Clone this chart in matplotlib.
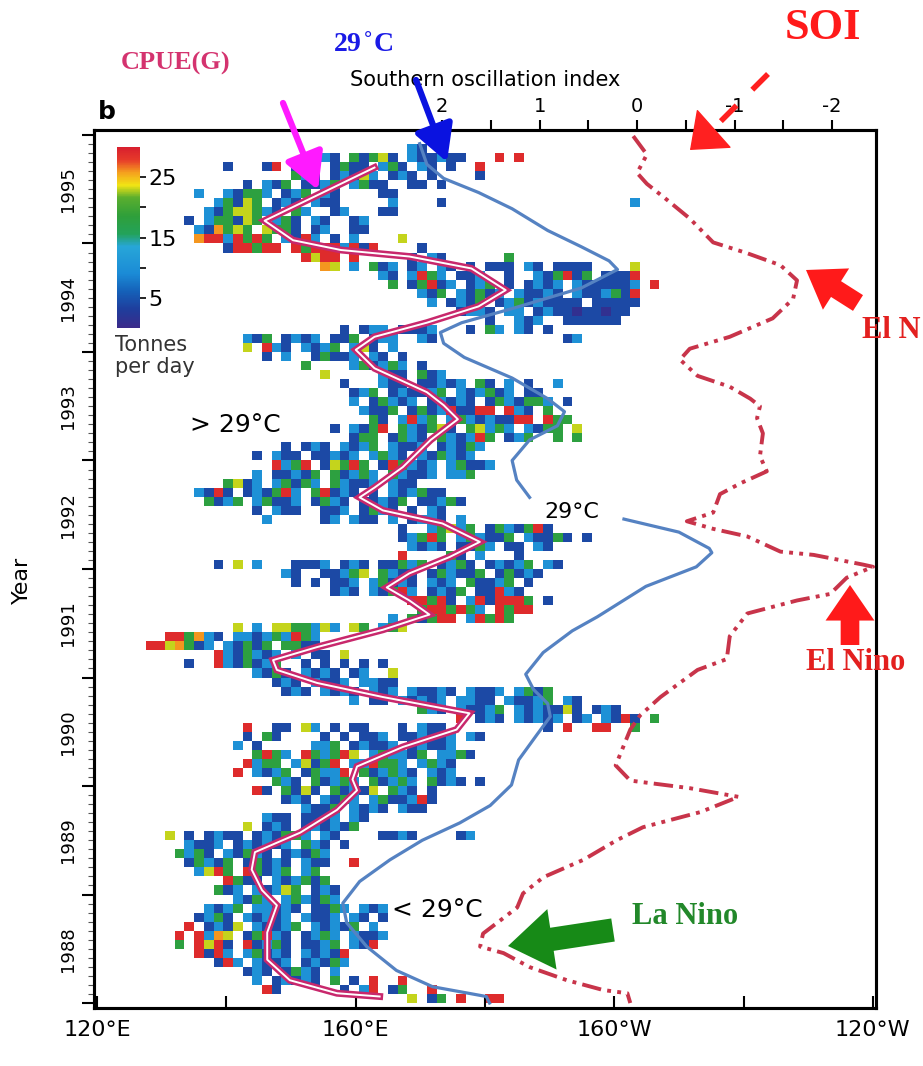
import numpy as np
import matplotlib
matplotlib.use("Agg")
from matplotlib import pyplot as plt
from matplotlib.colors import LinearSegmentedColormap, Normalize
from matplotlib.patches import FancyArrowPatch
from matplotlib.lines import Line2D
from matplotlib.ticker import MultipleLocator
import matplotlib.transforms as mtransforms

W, H = 923, 1066

# --- CPUE cells: one row per month, Dec 1995 (top) down to Jan 1988 ---
# tokens "col:codes", col = 1.5 deg column counted from 126E, '.' = no fishing
cell_lon0 = 126.0
cell_dlon = 1.5
cell_top_year = 1996.0
cell_values = {"p": 1, "b": 4, "c": 10, "g": 18, "y": 23, "o": 26, "r": 29}
cpue_rows = [
    "", "28:cb.b", "17:bbcb.gbgyb.cbbcbb 37:r.r", "9:b 13:br.bcb.bgbb.cgb.cb.b 35:r",
    "16:gcb.bcbyc.bcb.b 35:b", "11:b.cbg.bbcg.cgbb 28:bb 31:b", "6:c..cbggc.bcg.cb 25:bb",
    "8:cgbyg.bcb.cbb 26:c 31:b 51:c", "7:cbgyygcb.gc 20:bc 25:bb", "5:b.cggbyg.cgb.cb 22:bc",
    "6:cbogyg.yggb.bc 22:bb", "6:orrcrgrg.cbrc 20:b 22:c 27:y",
    # 1994
    "9:brrgrr.rgrrrcrbr 29:b", "17:ryrr 22:r 28:b 30:cb 38:g",
    "19:oy 22:c 24:gbc 28:bc.cb.b 36:bbb 40:cb 43:bbbb 51:y",
    "25:cb.crgc.bbc 38:b 41:cbgrbg.bbbr 51:r", "26:g.bgrbc.bcg.b 40:bcbc.cbbbbbc 53:r",
    "29:cbg.cbgbc.cbbcb.cbbcgbb 51:r", "30:c.bcbg.bcgbcbbbb.bbbbb", "33:bccb.cc.bcbbpbbpbb",
    "36:b..cbc..bbbbbb", "21:b.bcc.bbbc 34:b 36:gc 39:cb 42:b",
    "11:cbg.bcbc.bbg.bcc 29:cb 44:bc", "11:y.rcb.cbcg.cyb.c",
    # 1993
    "13:b.c..bgbbc.cb.b", "17:g 22:cgbcgc.b", "19:y 25:cbb.gbc",
    "21:b 25:cbb.bbcbc.gb 38:c 40:b 43:c", "22:bcg.bcbbcg.cbcgbc.bb",
    "22:c.bgcbc.bcbcb.bgcbggc.b", "23:cbbg.bgbcrbbrr.rcb.g", "24:gb.crcg.cgcbcbbrr.rgg",
    "20:b.cbgr.gcbgyb.gycgc.cbgg.y", "22:bgg.bgcb.gcbcrg.bcg 43:g.g",
    "15:b.bcb.cbcg.cbbc.bcbgc", "12:b.cbb.bbcbc.cgcb.cbgcbc",
    # 1992
    "14:rcgr.bygrg.brgcbc.cgbbc", "12:c.bbcbg.gbcgc.gcbbc.ccg", "9:gybc.cgbgc.gcbbc.cbb",
    "6:cbrb.bcbgrc.grbcb.b.cbcgbb", "7:gbcg.cgbbc.bgcb.bbcbg.bbcgb",
    "12:b.cbb 19:bbc.bgcb.b 30:cb", "13:c 19:bc 22:cbb 26:c 28:bccb 33:c",
    "27:b 30:cgycg.bgcbgrb", "27:bcgrg.cgcbbg.cbbgb 46:b", "28:cbcb.bbgc.bb 41:cb",
    "27:r 32:gb 35:c 39:b", "8:b 10:y 12:c 16:bbbc 21:bcb.bbgcg.bcgb.bcbcg.cb",
    # 1991
    "15:cb 19:bbcgy.gcbb.bgcbbg.bgbcb", "16:b 18:b 20:bbc.cgbcb 30:cbc.gbbcg.b",
    "20:bcb.cbgrc 30:bcbg.bbrcb", "28:rrgrb.crbrrrg 42:b", "29:grrgrgc.rgrr",
    "26:c 28:gbgrr.crgrg", "10:y 12:c 14:yyggcyc 22:yg 25:cgy", "3:rrgocb.ccbcgcrgc",
    "1:rryogbc.cbgbg.ggbb", "8:rcbgcbc 16:c 18:bb 21:y",
    "5:b 8:rcbgbcg 17:b 19:b 21:b 23:b 25:b", "12:cbgb 17:cbcb 22:bc 26:y",
    # 1990
    "14:bcb.cbbc.ccbb", "15:bcb.cbcb.cbc.cbbcb.cbbc.cgbg",
    "22:c 24:bb 27:cbcbc 33:ccbb.cbbcg.cb", "29:gcb.cbbcg.cbcbbyb.bcb",
    "33:r 35:bcb.cbcbc.bc 48:cbrb 53:g",
    "11:r 14:bb 17:yc 20:b 22:bb 27:b 29:cbb 42:b 44:r 47:rr 51:g",
    "11:b 13:gb 19:b 21:b 23:bbc.bbcbbc 34:cb", "10:c 12:b 18:ccg.bcbbc.bcbbc",
    "12:grgc.rgcgry.cgccbg.ccgb", "11:rcgg.cybgr.ccrggc.cgcb",
    "10:r 12:cbcg.bgccr.gbcgcb.cbc", "14:gcb.gbcgc.gbcgc.gbcb 35:b",
    # 1989
    "12:rb 15:gbyb.gbcby.gcb 30:b", "15:bcb.cbgc.cgbbcrb", "17:cbbg.cbcb.cbb",
    "13:cbb.bbbc.cb", "11:y 13:bcb.bcbcbg", "3:y 5:b 7:bcbb.bcbggc.cb 25:bbcb 33:bc",
    "5:cbbc.bcbcbc.gcb 21:b", "4:gcgb.cbgcb.bcbgc", "5:bgcbg.bgbcb.cbb 22:r",
    "6:cyrg.rgbcg.cg", "9:rgbb.cbcgbg", "8:gbc.cbcyg.bcb",
    # 1988
    "10:cbgc.cgcbgc", "7:cbcg.ccbcb.bbgc.cbc", "6:bcgb.cbcbc.cbbc.cb 25:b",
    "5:r 7:bcby.cbbcg.cbcbg.c", "4:r 6:rcoy.bgrcb.bcgc.cbbc", "4:g 6:ryrb.rbcgb.bbcg.cbr",
    "6:rbrc.cgbcb.cbcbr", "8:brc.cbbc.bcbgc", "11:bcb.bgcb 20:c",
    "12:c 14:bcbcb 20:g 22:b 24:r 27:r", "13:rb 21:b 23:cr 26:bg 30:r", "28:y 30:bg 33:r 36:rr",
]

# --- CPUE(G) line (lon degE, year) ---
cpue_lon = [162.9, 145.9, 150.3, 157.7, 168.3, 177.9, 183.2, 179.0, 171.0, 162.9, 160.0,
            162.9, 171.0, 173.6, 175.8, 171.6, 167.3, 162.9, 160.6, 164.2, 173.4, 179.2,
            174.5, 168.3, 164.8, 168.3, 171.4, 164.2, 154.0, 147.2, 147.8, 154.0, 164.2,
            177.6, 175.6, 167.3, 160.2, 159.5, 160.2, 157.1, 151.4, 144.4, 143.9, 145.5,
            147.8, 146.3, 146.3, 149.8, 157.1, 163.7]
cpue_year = [1995.70, 1995.21, 1995.03, 1994.94, 1994.88, 1994.77, 1994.57, 1994.42, 1994.27,
             1994.14, 1994.02, 1993.85, 1993.63, 1993.51, 1993.38, 1993.19, 1992.94, 1992.75,
             1992.66, 1992.54, 1992.42, 1992.25, 1992.11, 1991.96, 1991.83, 1991.71, 1991.58,
             1991.44, 1991.28, 1991.16, 1991.07, 1990.95, 1990.82, 1990.67, 1990.52, 1990.36,
             1990.18, 1990.06, 1989.96, 1989.78, 1989.57, 1989.39, 1989.23, 1989.04, 1988.90,
             1988.65, 1988.40, 1988.21, 1988.09, 1988.06]

# --- 29 C isotherm, two pieces (gap for its label) ---
sst_lon_a = [169.9, 171.0, 173.6, 179.0, 184.2, 189.7, 194.9, 199.2, 200.5, 194.9, 184.2,
             176.4, 173.1, 173.6, 176.8, 184.2, 189.7, 192.3, 191.2, 186.9, 184.2, 184.9, 186.9]
sst_year_a = [1995.92, 1995.73, 1995.60, 1995.47, 1995.32, 1995.12, 1994.97, 1994.84, 1994.76,
              1994.59, 1994.40, 1994.27, 1994.18, 1994.08, 1993.95, 1993.76, 1993.57, 1993.45,
              1993.32, 1993.19, 1993.00, 1992.82, 1992.66]
sst_lon_b = [201.5, 210.0, 214.7, 215.1, 212.7, 204.9, 197.4, 193.5, 189.0, 186.3, 187.5,
             189.7, 190.1, 188.0, 185.2, 184.1, 180.8, 176.1, 170.3, 165.3, 160.6, 158.0,
             158.6, 161.7, 166.3, 171.9, 180.2, 180.7]
sst_year_b = [1992.46, 1992.34, 1992.19, 1992.15, 1992.02, 1991.84, 1991.56, 1991.43, 1991.23,
              1991.03, 1990.89, 1990.76, 1990.64, 1990.47, 1990.24, 1990.01, 1989.82, 1989.66,
              1989.50, 1989.32, 1989.12, 1988.92, 1988.74, 1988.52, 1988.30, 1988.15, 1988.06,
              1988.00]

# --- Southern oscillation index ---
soi_val = [0.04, -0.10, 0.0, -0.10, -0.31, -0.54, -0.78, -1.13, -1.47, -1.64, -1.60, -1.39,
           -0.95, -0.54, -0.44, -0.62, -0.95, -1.16, -1.26, -1.23, -1.29, -1.26, -1.33, -1.06,
           -0.85, -0.78, -0.51, -0.78, -1.13, -1.47, -1.81, -2.32, -2.42, -2.15, -1.98, -1.64,
           -1.13, -0.95, -0.92, -0.62, -0.24, -0.03, 0.07, 0.22, 0.07, -0.54, -1.04, -0.65,
           -0.06, 0.21, 0.55, 0.96, 1.17, 1.23, 1.58, 1.61, 1.37, 1.10, 0.72, 0.35, 0.10, 0.07]
soi_year = [1995.99, 1995.82, 1995.65, 1995.55, 1995.40, 1995.23, 1995.01, 1994.91, 1994.80,
            1994.66, 1994.49, 1994.31, 1994.14, 1994.03, 1993.93, 1993.78, 1993.68, 1993.57,
            1993.50, 1993.39, 1993.25, 1993.04, 1992.90, 1992.79, 1992.69, 1992.52, 1992.44,
            1992.37, 1992.30, 1992.16, 1992.13, 1992.04, 1992.02, 1991.92, 1991.77, 1991.71,
            1991.59, 1991.38, 1991.17, 1991.07, 1990.82, 1990.65, 1990.52, 1990.19, 1990.05,
            1989.98, 1989.90, 1989.76, 1989.62, 1989.50, 1989.32, 1989.16, 1989.01, 1988.88,
            1988.64, 1988.52, 1988.46, 1988.33, 1988.21, 1988.12, 1988.09, 1988.00]

years = list(range(1988, 1996))
lon_ticks = [120, 140, 160, 180, 200, 220, 240]
lon_labels = ["120°E", "", "160°E", "", "160°W", "", "120°W"]
soi_ticks = [2, 1, 0, -1, -2]


def px(x, y):
    return x / W, 1 - y / H


def build_grid(rows, ncol=56):
    grid = np.full((len(rows), ncol), np.nan)
    for k, row in enumerate(rows):
        for tok in row.split():
            j0, codes = tok.split(":")
            for i, ch in enumerate(codes):
                if ch in cell_values and int(j0) + i < ncol:
                    grid[k, int(j0) + i] = cell_values[ch]
    return grid


cmap = LinearSegmentedColormap.from_list("tonnes", [
    (0.0, "#3b2a8a"), (0.1, "#1f3d9c"), (0.2, "#1560b8"), (0.3, "#1b8bd6"),
    (0.45, "#27a6d8"), (0.52, "#23a25a"), (0.62, "#2f9f3a"), (0.72, "#5aae2e"),
    (0.79, "#f2e414"), (0.86, "#f5a01e"), (0.93, "#e63a2a"), (1.0, "#d81f2e")])
norm = Normalize(0, 30)

fig = plt.figure(figsize=(W / 100, H / 100), dpi=100)
ax = fig.add_axes([94 / W, 1 - 1008 / H, 782 / W, 878 / H])

grid = build_grid(cpue_rows)
lon_edges = cell_lon0 + cell_dlon * np.arange(grid.shape[1] + 1)
year_edges = cell_top_year - np.arange(grid.shape[0] + 1) / 12
mesh = ax.pcolormesh(lon_edges, year_edges, np.ma.masked_invalid(grid), cmap=cmap, norm=norm,
                     edgecolors="none", antialiased=False, zorder=1)

ax.plot(sst_lon_a, sst_year_a, color="#5582c2", lw=2.3, zorder=3)
ax.plot(sst_lon_b, sst_year_b, color="#5582c2", lw=2.3, zorder=3)
ax.plot(cpue_lon, cpue_year, color="#c8286c", lw=5, zorder=4, solid_joinstyle="miter")
ax.plot(cpue_lon, cpue_year, color="white", lw=1.4, zorder=5)

ax.set_xlim(119.5, 240.5)
ax.set_ylim(1987.954, 1996.046)
ax.set_xticks(lon_ticks)
ax.set_xticklabels(lon_labels, fontsize=16)
ax.tick_params(axis="x", direction="in", length=9, width=1.5, pad=9, top=False)
ax.set_yticks(list(range(1988, 1997)))
ax.set_yticklabels([])
ax.yaxis.set_minor_locator(MultipleLocator(1 / 12))
ax.tick_params(axis="y", which="major", direction="out", length=9, width=1.5)
ax.tick_params(axis="y", which="minor", direction="out", length=4, width=0.8, color="#555555")
for s in ax.spines.values():
    s.set_linewidth(2.2)

trans = mtransforms.blended_transform_factory(ax.transAxes, ax.transData)
for yr in years:
    ax.text(-0.033, yr + 0.5, str(yr), transform=trans, rotation=90, ha="center", va="center",
            fontsize=13)

# SOI on a twin axis (top scale)
ax2 = ax.twiny()
ax2.plot(soi_val, soi_year, color="#c8344a", lw=2.8, dashes=(5, 1.6, 1, 1.6, 1, 1.6), zorder=6)
ax2.set_xlim(5.57, -2.45)
ax2.set_xticks(soi_ticks)
ax2.set_xticklabels(["2", "1", "0", "-1", "-2"], fontsize=14)
ax2.set_xticks([1.5, 0.5, -0.5, -1.5], minor=True)
ax2.tick_params(axis="x", which="both", direction="out", length=7, width=1.5, pad=3)
ax2.set_xlabel("Southern oscillation index", fontsize=15, labelpad=8)
for s in ax2.spines.values():
    s.set_linewidth(2.2)

# colour bar inset
cax = fig.add_axes([117 / W, 1 - 328 / H, 23 / W, 181 / H])
cb = fig.colorbar(mesh, cax=cax)
cb.outline.set_visible(False)
cb.set_ticks([5, 15, 25])
cb.ax.set_yticks([10, 20], minor=True)
cb.ax.tick_params(which="both", length=4, width=1.2, labelsize=16, pad=2)
fig.text(*px(115, 356), "Tonnes\nper day", fontsize=15, color="#333333", ha="left", va="center",
         linespacing=1.15)

# labels
fig.text(*px(22, 580), "Year", rotation=90, fontsize=16, ha="center", va="center")
fig.text(*px(98, 112), "b", fontsize=18, fontweight="bold", ha="left", va="center")
fig.text(*px(235, 425), "> 29°C", fontsize=18, ha="center", va="center")
fig.text(*px(437, 910), "< 29°C", fontsize=18, ha="center", va="center")
fig.text(*px(572, 512), "29°C", fontsize=16, ha="center", va="center")

serif = "Liberation Serif"
fig.text(*px(176, 63), "CPUE(G)", fontsize=19, fontweight="bold", family=serif, color="#d4336f",
         ha="center", va="center")
fig.text(*px(363, 45), "29$^{\\circ}$C", fontsize=20, fontweight="bold", family=serif,
         color="#1a1ae6", ha="center", va="center")
fig.text(*px(823, 28), "SOI", fontsize=32, fontweight="bold", family=serif, color="#ff1a1a",
         ha="center", va="center")
fig.text(*px(920, 330), "El N", fontsize=22, fontweight="bold", family=serif, color="#e3201f",
         ha="right", va="center")
fig.text(*px(806, 662), "El Nino", fontsize=22, fontweight="bold", family=serif, color="#e3201f",
         ha="left", va="center")
fig.text(*px(632, 917), "La Nino", fontsize=22, fontweight="bold", family=serif, color="#22882a",
         ha="left", va="center")


def arrow(p0, p1, color, style, scale, lw=0, ls="-"):
    a = FancyArrowPatch(px(*p0), px(*p1), transform=fig.transFigure, arrowstyle=style,
                        mutation_scale=scale, color=color, lw=lw, linestyle=ls, shrinkA=0, shrinkB=0)
    fig.add_artist(a)


arrow((283, 103), (318, 190), "#ff1aff", "-|>,head_length=1.0,head_width=0.55", 22, lw=4.5)
arrow((416, 80), (447, 162), "#0a12e0", "-|>,head_length=1.0,head_width=0.55", 22, lw=4.5)
fig.add_artist(Line2D([768 / W, 706 / W], [1 - 74 / H, 1 - 136 / H], transform=fig.transFigure,
                      color="#ff2020", lw=4, dashes=(4, 4)))
arrow((708, 134), (690, 150), "#ff2020", "-|>,head_length=1.0,head_width=0.8", 22, lw=1)
block = "simple,head_length=0.8,head_width=1.1,tail_width=0.42"
arrow((858, 303), (806, 270), "#ff1a1a", block, 32)
arrow((850, 645), (850, 585), "#ff1a1a", block, 32)
arrow((613, 930), (508, 946), "#178a17", block, 40)

fig.savefig("out.png", dpi=100)
